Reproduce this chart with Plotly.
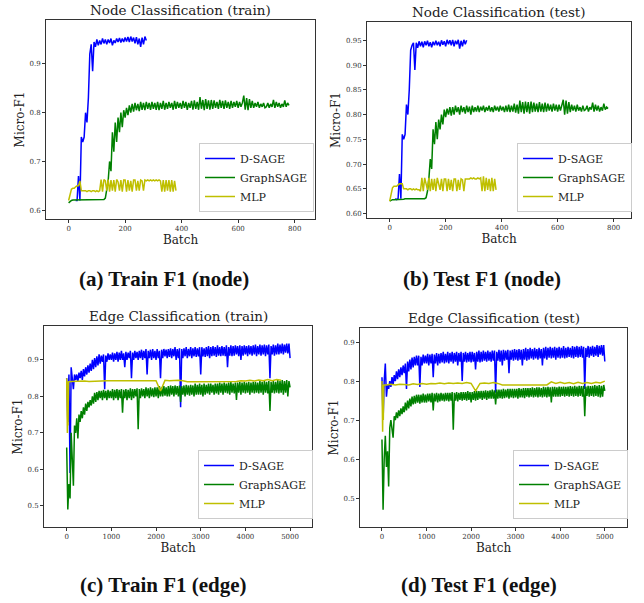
import plotly.graph_objects as go

# ---------------- data ----------------
series_names = ["D-SAGE", "GraphSAGE", "MLP"]
titles = ["Node Classification (train)", "Node Classification (test)",
          "Edge Classification (train)", "Edge Classification (test)"]
captions = ["(a) Train F1 (node)", "(b) Test F1 (node)",
            "(c) Train F1 (edge)", "(d) Test F1 (edge)"]

# (a) node train  (D-SAGE every 5 batches from 25, GraphSAGE every 5, MLP every 5)
node_tr_dsage = [0.62, 0.62, 0.67, 0.62, 0.75, 0.74, 0.75, 0.8, 0.78, 0.83, 0.92, 0.94, 0.885, 0.945, 0.935,
                 0.95, 0.938, 0.948, 0.94, 0.952, 0.942, 0.95, 0.94, 0.95, 0.943, 0.952, 0.938, 0.948, 0.943, 0.952,
                 0.945, 0.953, 0.944, 0.952, 0.945, 0.954, 0.946, 0.955, 0.945, 0.956, 0.946, 0.954, 0.942, 0.955,
                 0.94, 0.952, 0.935, 0.954, 0.94, 0.956, 0.948]
node_tr_dsage_start = 25
node_tr_gsage = [0.615, 0.618, 0.62, 0.621, 0.621, 0.621, 0.621, 0.621, 0.621, 0.621, 0.621, 0.621, 0.621, 0.621,
                 0.621, 0.621, 0.621, 0.621, 0.621, 0.621,
                 0.621, 0.621, 0.622, 0.622, 0.622, 0.622, 0.625, 0.64, 0.66, 0.7, 0.68, 0.76, 0.72, 0.78, 0.74,
                 0.79, 0.76, 0.8, 0.77, 0.805,
                 0.79, 0.81, 0.795, 0.815, 0.8, 0.818, 0.802, 0.82, 0.805, 0.818, 0.803, 0.822, 0.806, 0.82, 0.805,
                 0.822, 0.808, 0.82, 0.806, 0.822,
                 0.808, 0.82, 0.806, 0.822, 0.805, 0.82, 0.808, 0.824, 0.806, 0.82, 0.808, 0.822, 0.81, 0.82, 0.806,
                 0.824, 0.808, 0.822, 0.81, 0.82,
                 0.808, 0.824, 0.81, 0.822, 0.806, 0.82, 0.81, 0.824, 0.806, 0.825, 0.808, 0.822, 0.806, 0.832,
                 0.808, 0.826, 0.805, 0.828, 0.808, 0.825,
                 0.806, 0.826, 0.808, 0.825, 0.81, 0.822, 0.808, 0.826, 0.81, 0.824, 0.808, 0.825, 0.81, 0.822,
                 0.808, 0.824, 0.81, 0.822, 0.812, 0.824,
                 0.81, 0.822, 0.812, 0.82, 0.835, 0.806, 0.83, 0.805, 0.828, 0.81, 0.824, 0.81, 0.82, 0.812, 0.822,
                 0.81, 0.818, 0.812, 0.82, 0.81,
                 0.812, 0.82, 0.81, 0.818, 0.812, 0.826, 0.81, 0.822, 0.812, 0.82, 0.81, 0.818, 0.812, 0.825, 0.812,
                 0.82, 0.815]
node_tr_mlp = [0.62, 0.635, 0.643, 0.645, 0.645, 0.648, 0.65, 0.65, 0.66, 0.64, 0.64, 0.64, 0.64, 0.638, 0.64,
               0.64, 0.638, 0.64, 0.64, 0.638, 0.64, 0.638, 0.64, 0.663, 0.638, 0.663, 0.66, 0.64, 0.663, 0.638,
               0.662, 0.64, 0.662, 0.638, 0.663, 0.658, 0.64, 0.662, 0.638, 0.662, 0.662, 0.638, 0.662, 0.64, 0.66,
               0.638, 0.662, 0.662, 0.64, 0.66, 0.64, 0.662, 0.66, 0.64, 0.662, 0.66, 0.662, 0.66, 0.662, 0.66,
               0.662, 0.66, 0.662, 0.66, 0.662, 0.66, 0.638, 0.662, 0.638, 0.662, 0.64, 0.662, 0.638, 0.662, 0.638,
               0.66, 0.64]

# (b) node test
node_te_dsage = [0.63, 0.628, 0.63, 0.68, 0.63, 0.76, 0.75, 0.76, 0.82, 0.8, 0.85, 0.93, 0.94, 0.945, 0.89, 0.945,
                 0.935, 0.948, 0.938, 0.947, 0.936, 0.948, 0.94, 0.949, 0.938, 0.946, 0.936, 0.947, 0.94, 0.949,
                 0.94, 0.947, 0.938, 0.95, 0.941, 0.948, 0.938, 0.951, 0.942, 0.95, 0.94, 0.951, 0.938, 0.949, 0.942,
                 0.951, 0.933, 0.949, 0.938, 0.951, 0.942, 0.95]
node_te_dsage_start = 20
node_te_gsage = [0.625, 0.627, 0.628, 0.628, 0.628, 0.629, 0.629, 0.629, 0.629, 0.629, 0.629, 0.63, 0.63, 0.63,
                 0.63, 0.63, 0.63, 0.63, 0.63, 0.63,
                 0.63, 0.63, 0.63, 0.63, 0.63, 0.63, 0.632, 0.645, 0.67, 0.71, 0.69, 0.77, 0.74, 0.785, 0.75, 0.79,
                 0.77, 0.8, 0.78, 0.81,
                 0.795, 0.812, 0.8, 0.815, 0.798, 0.815, 0.8, 0.818, 0.805, 0.815, 0.8, 0.818, 0.805, 0.815, 0.802,
                 0.818, 0.805, 0.816, 0.8, 0.818,
                 0.805, 0.815, 0.806, 0.818, 0.805, 0.816, 0.808, 0.818, 0.805, 0.815, 0.808, 0.818, 0.806, 0.815,
                 0.805, 0.818, 0.808, 0.816, 0.806, 0.818,
                 0.808, 0.816, 0.805, 0.818, 0.806, 0.82, 0.805, 0.818, 0.806, 0.822, 0.804, 0.82, 0.802, 0.828,
                 0.805, 0.825, 0.802, 0.826, 0.805, 0.825,
                 0.802, 0.826, 0.805, 0.824, 0.806, 0.822, 0.805, 0.825, 0.806, 0.822, 0.805, 0.824, 0.806, 0.822,
                 0.808, 0.82, 0.806, 0.822, 0.808, 0.82,
                 0.806, 0.82, 0.808, 0.818, 0.83, 0.8, 0.828, 0.802, 0.825, 0.805, 0.82, 0.808, 0.818, 0.806, 0.82,
                 0.808, 0.815, 0.806, 0.818, 0.808,
                 0.81, 0.818, 0.806, 0.815, 0.81, 0.824, 0.806, 0.82, 0.808, 0.818, 0.806, 0.815, 0.808, 0.822, 0.81,
                 0.815, 0.812]
node_te_mlp = [0.625, 0.64, 0.652, 0.655, 0.655, 0.655, 0.658, 0.66, 0.66, 0.66, 0.65, 0.65, 0.65, 0.648, 0.65,
               0.65, 0.648, 0.65, 0.648, 0.65, 0.648, 0.648, 0.645, 0.672, 0.645, 0.672, 0.66, 0.648, 0.672, 0.645,
               0.67, 0.648, 0.67, 0.645, 0.672, 0.66, 0.648, 0.67, 0.645, 0.67, 0.67, 0.645, 0.67, 0.648, 0.668,
               0.645, 0.67, 0.67, 0.645, 0.668, 0.648, 0.67, 0.668, 0.645, 0.67, 0.67, 0.67, 0.67, 0.672, 0.67,
               0.672, 0.67, 0.67, 0.672, 0.67, 0.672, 0.645, 0.675, 0.645, 0.672, 0.648, 0.67, 0.645, 0.672, 0.645,
               0.67, 0.648]

# (c) edge train (D-SAGE / GraphSAGE every 25 batches)
edge_tr_dsage = [0.85, 0.73, 0.86, 0.59, 0.88, 0.84, 0.82, 0.86, 0.845, 0.86, 0.84, 0.865, 0.85, 0.87, 0.845, 0.875,
                 0.855, 0.88, 0.86, 0.885,
                 0.865, 0.89, 0.87, 0.9, 0.875, 0.905, 0.88, 0.91, 0.885, 0.915, 0.89, 0.912, 0.895, 0.915, 0.82,
                 0.912, 0.895, 0.918, 0.9, 0.915,
                 0.9, 0.92, 0.895, 0.918, 0.9, 0.922, 0.895, 0.92, 0.9, 0.925, 0.9, 0.918, 0.88, 0.922, 0.9, 0.92,
                 0.905, 0.925, 0.85, 0.92,
                 0.9, 0.925, 0.905, 0.922, 0.9, 0.925, 0.905, 0.928, 0.9, 0.925, 0.905, 0.93, 0.86, 0.925, 0.905,
                 0.928, 0.9, 0.93, 0.905, 0.925,
                 0.9, 0.93, 0.905, 0.925, 0.85, 0.928, 0.905, 0.93, 0.91, 0.928, 0.905, 0.93, 0.908, 0.932, 0.905,
                 0.93, 0.91, 0.935, 0.9, 0.93,
                 0.905, 0.932, 0.77, 0.93, 0.905, 0.932, 0.91, 0.935, 0.905, 0.93, 0.91, 0.935, 0.905, 0.932, 0.91,
                 0.935, 0.908, 0.932, 0.91, 0.935,
                 0.86, 0.935, 0.91, 0.932, 0.908, 0.935, 0.91, 0.938, 0.905, 0.935, 0.91, 0.938, 0.912, 0.935, 0.908,
                 0.94, 0.912, 0.935, 0.91, 0.938,
                 0.912, 0.935, 0.91, 0.94, 0.88, 0.935, 0.912, 0.94, 0.91, 0.938, 0.912, 0.94, 0.915, 0.938, 0.91,
                 0.94, 0.9, 0.938, 0.912, 0.94,
                 0.915, 0.938, 0.91, 0.94, 0.915, 0.938, 0.912, 0.94, 0.915, 0.942, 0.91, 0.938, 0.915, 0.942, 0.912,
                 0.94, 0.915, 0.942, 0.91, 0.94,
                 0.915, 0.942, 0.85, 0.938, 0.915, 0.942, 0.912, 0.94, 0.915, 0.945, 0.915, 0.942, 0.918, 0.945,
                 0.915, 0.942, 0.92, 0.945, 0.918, 0.945,
                 0.905]
edge_tr_gsage = [0.66, 0.49, 0.56, 0.52, 0.7, 0.6, 0.555, 0.72, 0.7, 0.74, 0.685, 0.75, 0.73, 0.76, 0.74, 0.77,
                 0.75, 0.78, 0.76, 0.785,
                 0.77, 0.79, 0.775, 0.8, 0.78, 0.81, 0.785, 0.812, 0.79, 0.815, 0.795, 0.815, 0.79, 0.818, 0.795,
                 0.815, 0.79, 0.818, 0.795, 0.815,
                 0.795, 0.82, 0.79, 0.818, 0.795, 0.82, 0.79, 0.818, 0.795, 0.82, 0.755, 0.818, 0.795, 0.82, 0.79,
                 0.818, 0.795, 0.822, 0.79, 0.82,
                 0.795, 0.82, 0.8, 0.822, 0.71, 0.82, 0.795, 0.822, 0.8, 0.82, 0.795, 0.825, 0.8, 0.822, 0.795,
                 0.825, 0.8, 0.822, 0.798, 0.825,
                 0.8, 0.825, 0.795, 0.828, 0.8, 0.825, 0.8, 0.828, 0.802, 0.825, 0.8, 0.828, 0.8, 0.83, 0.805, 0.828,
                 0.8, 0.83, 0.805, 0.828,
                 0.8, 0.83, 0.785, 0.828, 0.805, 0.83, 0.8, 0.832, 0.805, 0.83, 0.802, 0.832, 0.805, 0.83, 0.8,
                 0.835, 0.805, 0.832, 0.805, 0.835,
                 0.805, 0.832, 0.8, 0.835, 0.805, 0.832, 0.808, 0.835, 0.805, 0.835, 0.81, 0.832, 0.805, 0.835,
                 0.808, 0.835, 0.805, 0.838, 0.81, 0.835,
                 0.805, 0.838, 0.81, 0.835, 0.808, 0.838, 0.805, 0.84, 0.81, 0.835, 0.808, 0.838, 0.79, 0.838, 0.81,
                 0.84, 0.805, 0.838, 0.81, 0.84,
                 0.808, 0.838, 0.81, 0.84, 0.805, 0.838, 0.81, 0.84, 0.808, 0.84, 0.81, 0.838, 0.808, 0.842, 0.81,
                 0.84, 0.805, 0.842, 0.81, 0.84,
                 0.808, 0.842, 0.76, 0.84, 0.81, 0.842, 0.808, 0.84, 0.81, 0.845, 0.808, 0.842, 0.81, 0.845, 0.805,
                 0.842, 0.81, 0.845, 0.8, 0.842,
                 0.825]
edge_tr_mlp_x = [0, 15, 25, 30, 40, 100, 200, 300, 400, 500, 600, 700, 800, 900, 1000, 1100, 1200, 1300, 1400,
                 1500, 1600, 1700, 1800, 1900, 2000, 2100, 2200, 2300, 2400, 2500, 2600, 2700, 2800, 2900, 3000,
                 3100, 3200, 3300, 3400, 3500, 3600, 3700, 3800, 3900, 4000, 4100, 4200, 4300, 4400, 4500, 4600,
                 4700, 4800]
edge_tr_mlp = [0.85, 0.70, 0.84, 0.72, 0.84, 0.841, 0.842, 0.841, 0.842, 0.841, 0.842, 0.843, 0.842, 0.843, 0.843,
               0.843, 0.843, 0.844, 0.843, 0.844, 0.843, 0.844, 0.843, 0.844, 0.843, 0.815, 0.844, 0.843, 0.844,
               0.844, 0.843, 0.84, 0.84, 0.84, 0.84, 0.84, 0.84, 0.84, 0.84, 0.84, 0.84, 0.842, 0.841, 0.843, 0.842,
               0.844, 0.842, 0.845, 0.843, 0.846, 0.843, 0.846, 0.844]

# (d) edge test (D-SAGE / GraphSAGE every 25 batches)
edge_te_dsage = [0.81, 0.70, 0.8, 0.845, 0.76, 0.79, 0.78, 0.8, 0.785, 0.81, 0.79, 0.815, 0.8, 0.825, 0.805, 0.83,
                 0.81, 0.835, 0.815, 0.84,
                 0.82, 0.845, 0.78, 0.85, 0.825, 0.855, 0.83, 0.86, 0.835, 0.862, 0.84, 0.865, 0.84, 0.865, 0.785,
                 0.862, 0.84, 0.868, 0.845, 0.865,
                 0.845, 0.87, 0.84, 0.868, 0.845, 0.87, 0.81, 0.868, 0.845, 0.872, 0.84, 0.87, 0.845, 0.872, 0.848,
                 0.875, 0.845, 0.87, 0.848, 0.875,
                 0.845, 0.872, 0.85, 0.875, 0.845, 0.872, 0.85, 0.875, 0.84, 0.872, 0.85, 0.875, 0.8, 0.872, 0.85,
                 0.875, 0.848, 0.872, 0.85, 0.875,
                 0.848, 0.875, 0.85, 0.872, 0.83, 0.875, 0.85, 0.878, 0.848, 0.875, 0.85, 0.878, 0.852, 0.875, 0.85,
                 0.878, 0.852, 0.875, 0.85, 0.878,
                 0.852, 0.878, 0.77, 0.875, 0.852, 0.88, 0.85, 0.878, 0.84, 0.88, 0.852, 0.878, 0.855, 0.88, 0.82,
                 0.878, 0.855, 0.88, 0.852, 0.882,
                 0.855, 0.88, 0.852, 0.882, 0.855, 0.88, 0.84, 0.882, 0.855, 0.885, 0.852, 0.882, 0.855, 0.885,
                 0.858, 0.882, 0.855, 0.885, 0.858, 0.882,
                 0.855, 0.885, 0.858, 0.882, 0.84, 0.885, 0.858, 0.888, 0.855, 0.885, 0.86, 0.888, 0.858, 0.885,
                 0.86, 0.888, 0.855, 0.885, 0.86, 0.888,
                 0.858, 0.885, 0.86, 0.89, 0.858, 0.885, 0.86, 0.888, 0.862, 0.885, 0.86, 0.89, 0.858, 0.888, 0.862,
                 0.89, 0.86, 0.888, 0.862, 0.89,
                 0.86, 0.888, 0.78, 0.885, 0.862, 0.89, 0.86, 0.888, 0.865, 0.89, 0.862, 0.888, 0.865, 0.892, 0.862,
                 0.89, 0.868, 0.892, 0.865, 0.892,
                 0.85]
edge_te_gsage = [0.65, 0.47, 0.6, 0.66, 0.58, 0.62, 0.53, 0.68, 0.7, 0.68, 0.655, 0.71, 0.7, 0.72, 0.705, 0.725,
                 0.71, 0.73, 0.715, 0.735,
                 0.72, 0.745, 0.725, 0.75, 0.73, 0.755, 0.735, 0.76, 0.74, 0.762, 0.742, 0.765, 0.745, 0.765, 0.742,
                 0.765, 0.745, 0.768, 0.745, 0.765,
                 0.745, 0.768, 0.748, 0.768, 0.745, 0.77, 0.725, 0.768, 0.748, 0.77, 0.745, 0.768, 0.748, 0.77, 0.75,
                 0.768, 0.748, 0.77, 0.75, 0.77,
                 0.748, 0.77, 0.75, 0.772, 0.675, 0.77, 0.75, 0.772, 0.748, 0.77, 0.752, 0.772, 0.75, 0.772, 0.752,
                 0.772, 0.75, 0.774, 0.752, 0.772,
                 0.745, 0.772, 0.752, 0.774, 0.75, 0.775, 0.752, 0.774, 0.755, 0.775, 0.752, 0.775, 0.755, 0.776,
                 0.752, 0.775, 0.755, 0.776, 0.755, 0.778,
                 0.755, 0.776, 0.74, 0.778, 0.755, 0.778, 0.756, 0.778, 0.755, 0.78, 0.756, 0.778, 0.758, 0.78, 0.755,
                 0.78, 0.758, 0.78, 0.756, 0.78,
                 0.758, 0.78, 0.755, 0.782, 0.758, 0.78, 0.758, 0.782, 0.756, 0.782, 0.76, 0.782, 0.758, 0.782, 0.76,
                 0.784, 0.758, 0.782, 0.76, 0.784,
                 0.758, 0.784, 0.76, 0.782, 0.758, 0.785, 0.76, 0.784, 0.758, 0.785, 0.76, 0.784, 0.745, 0.785, 0.76,
                 0.785, 0.76, 0.784, 0.76, 0.786,
                 0.76, 0.785, 0.762, 0.786, 0.76, 0.785, 0.762, 0.786, 0.76, 0.787, 0.762, 0.786, 0.76, 0.788, 0.762,
                 0.786, 0.76, 0.788, 0.762, 0.787,
                 0.76, 0.788, 0.71, 0.786, 0.762, 0.788, 0.76, 0.787, 0.762, 0.788, 0.76, 0.79, 0.762, 0.788, 0.76,
                 0.79, 0.758, 0.788, 0.76, 0.79,
                 0.775]
edge_te_mlp_x = [0, 15, 25, 30, 40, 100, 200, 300, 400, 500, 600, 700, 800, 900, 1000, 1100, 1200, 1300, 1400,
                 1500, 1600, 1700, 1800, 1900, 2000, 2100, 2200, 2300, 2400, 2500, 2600, 2700, 2800, 2900, 3000,
                 3100, 3200, 3300, 3400, 3500, 3600, 3700, 3800, 3900, 4000, 4100, 4200, 4300, 4400, 4500, 4600,
                 4700, 4800, 4900, 5000]
edge_te_mlp = [0.8, 0.67, 0.79, 0.70, 0.79, 0.79, 0.792, 0.79, 0.792, 0.791, 0.79, 0.793, 0.791, 0.794, 0.792,
               0.794, 0.793, 0.795, 0.793, 0.795, 0.794, 0.795, 0.794, 0.796, 0.794, 0.775, 0.794, 0.795, 0.794,
               0.796, 0.794, 0.79, 0.79, 0.79, 0.79, 0.79, 0.79, 0.79, 0.79, 0.79, 0.79, 0.79, 0.798, 0.794, 0.797,
               0.794, 0.796, 0.793, 0.797, 0.794, 0.796, 0.794, 0.797, 0.795, 0.8]

# tick values per panel
yticks_a = [0.6, 0.7, 0.8, 0.9]
yticks_b = [0.60, 0.65, 0.70, 0.75, 0.80, 0.85, 0.90, 0.95]
yticks_cd = [0.5, 0.6, 0.7, 0.8, 0.9]
xticks_node = [0, 200, 400, 600, 800]
xticks_edge = [0, 1000, 2000, 3000, 4000, 5000]


def xs(start, step, vals):
    return list(range(start, start + step * len(vals), step))


COL = {"D-SAGE": "#0000ff", "GraphSAGE": "#008000", "MLP": "#bfbf00"}
FONT = "DejaVu Serif, serif"
W, H = 644, 603

panels = [
    dict(ax="", leg="legend",
         data=[(xs(node_tr_dsage_start, 5, node_tr_dsage), node_tr_dsage),
               (xs(0, 5, node_tr_gsage), node_tr_gsage),
               (xs(0, 5, node_tr_mlp), node_tr_mlp)],
         px=(46, 315), py=(20, 219), xr=[-80, 872], yr=[0.582, 0.99],
         xt=xticks_node, yt=yticks_a, yfmt=".1f", legpos=(199, 143), cap=(164, 279)),
    dict(ax="2", leg="legend2",
         data=[(xs(node_te_dsage_start, 5, node_te_dsage), node_te_dsage),
               (xs(0, 5, node_te_gsage), node_te_gsage),
               (xs(0, 5, node_te_mlp), node_te_mlp)],
         px=(367, 631), py=(22, 218), xr=[-81, 862], yr=[0.591, 0.987],
         xt=xticks_node, yt=yticks_b, yfmt=".2f", legpos=(517, 143), cap=(482, 279)),
    dict(ax="3", leg="legend3",
         data=[(xs(0, 25, edge_tr_dsage), edge_tr_dsage),
               (xs(0, 25, edge_tr_gsage), edge_tr_gsage),
               (edge_tr_mlp_x, edge_tr_mlp)],
         px=(44, 312), py=(326, 527), xr=[-508, 5491], yr=[0.442, 0.993],
         xt=xticks_edge, yt=yticks_cd, yfmt=".1f", legpos=(198, 450), cap=(163, 585)),
    dict(ax="4", leg="legend4",
         data=[(xs(0, 25, edge_te_dsage), edge_te_dsage),
               (xs(0, 25, edge_te_gsage), edge_te_gsage),
               (edge_te_mlp_x, edge_te_mlp)],
         px=(360, 627), py=(328, 527), xr=[-493, 5498], yr=[0.426, 0.936],
         xt=xticks_edge, yt=yticks_cd, yfmt=".1f", legpos=(513, 450), cap=(479, 585)),
]

fig = go.Figure()
layout = dict(width=W, height=H, margin=dict(l=0, r=0, t=0, b=0),
              paper_bgcolor="white", plot_bgcolor="white",
              font=dict(family=FONT, color="#222222"), annotations=[])

for i, p in enumerate(panels):
    for name, (x, y) in zip(series_names, p["data"]):
        fig.add_trace(go.Scatter(x=x, y=y, mode="lines", name=name,
                                 line=dict(color=COL[name], width=1.5),
                                 xaxis="x" + p["ax"], yaxis="y" + p["ax"],
                                 legend=p["leg"], showlegend=True))
    axcommon = dict(showline=True, mirror=True, linecolor="#333333", linewidth=1,
                    ticks="outside", ticklen=3, tickcolor="#333333", tickwidth=1,
                    showgrid=False, zeroline=False,
                    tickfont=dict(family=FONT, size=7, color="#333333"))
    layout["xaxis" + p["ax"]] = dict(axcommon, domain=[p["px"][0] / W, p["px"][1] / W],
                                     range=p["xr"], anchor="y" + p["ax"],
                                     tickvals=p["xt"], ticktext=[str(v) for v in p["xt"]],
                                     title=dict(text="Batch", font=dict(size=12, family=FONT, color="#222222"),
                                                standoff=1))
    layout["yaxis" + p["ax"]] = dict(axcommon, domain=[1 - p["py"][1] / H, 1 - p["py"][0] / H],
                                     range=p["yr"], anchor="x" + p["ax"],
                                     tickvals=p["yt"], tickformat=p["yfmt"],
                                     title=dict(text="Micro-F1", font=dict(size=12, family=FONT, color="#222222"),
                                                standoff=2))
    layout[p["leg"]] = dict(x=p["legpos"][0] / W, y=1 - p["legpos"][1] / H, xanchor="left", yanchor="top",
                            bgcolor="white", bordercolor="#cccccc", borderwidth=1,
                            font=dict(family=FONT, size=11, color="#222222"),
                            itemwidth=30, tracegroupgap=0)
    layout["annotations"].append(dict(text=titles[i], x=(p["px"][0] + p["px"][1]) / 2 / W,
                                      y=1 - p["py"][0] / H, xref="paper", yref="paper",
                                      xanchor="center", yanchor="bottom", yshift=0, showarrow=False,
                                      font=dict(family=FONT, size=13.5, color="#222222")))
    layout["annotations"].append(dict(text="<b>" + captions[i] + "</b>", x=p["cap"][0] / W,
                                      y=1 - p["cap"][1] / H, xref="paper", yref="paper",
                                      xanchor="center", yanchor="middle", showarrow=False,
                                      font=dict(family="Liberation Serif, serif", size=21, color="#111111")))

fig.update_layout(**layout)
fig.write_html("out.html")
